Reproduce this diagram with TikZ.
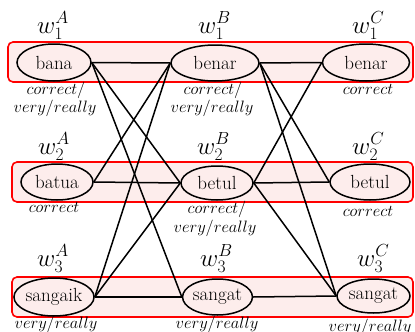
\RequirePackage{fix-cm}
\documentclass[tikz,border=0pt]{standalone}
\usetikzlibrary{shapes.geometric}
\definecolor{rowpink}{RGB}{253,237,236}
\definecolor{rowred}{RGB}{255,0,0}
\begin{document}
\begin{tikzpicture}[x=1pt,y=-1pt,
  rowbox/.style={draw=rowred,fill=rowpink,line width=1.6pt,rounded corners=5pt},
  word/.style={ellipse,draw=black,fill=rowpink,line width=1.5pt,inner sep=0pt,
    font=\fontsize{19}{22}\selectfont},
  wlab/.style={anchor=base west,inner sep=0pt,font=\fontsize{25}{28}\selectfont},
  note/.style={anchor=base,inner sep=0pt,font=\fontsize{16.5}{19}\selectfont},
  link/.style={line width=1.5pt,black}]
\useasboundingbox (0,0) rectangle (415,332);
% row boxes
\draw[rowbox] (8,42) rectangle (413,82);
\draw[rowbox] (12,162) rectangle (413,202);
\draw[rowbox] (12,277) rectangle (413,317);
% words
\node[word,minimum width=74pt,minimum height=37pt] (a1) at (54,62.5) {bana};
\node[word,minimum width=88pt,minimum height=36pt] (b1) at (215,63) {benar};
\node[word,minimum width=87pt,minimum height=37pt] (c1) at (366,62.5) {benar};
\node[word,minimum width=72pt,minimum height=36pt] (a2) at (57,182) {batua};
\node[word,minimum width=72pt,minimum height=34pt] (b2) at (217,183) {betul};
\node[word,minimum width=80pt,minimum height=36pt] (c2) at (370,182) {betul};
\node[word,minimum width=75pt,minimum height=38pt] (a3) at (54,297) {sangaik};
\node[word,minimum width=69pt,minimum height=36pt] (b3) at (217.5,297) {sangat};
\node[word,minimum width=73pt,minimum height=34pt] (c3) at (373.5,296) {sangat};
% links A-B
\draw[link] (a1.east) -- (b1.west);
\draw[link] (a1.east) -- (b2.west);
\draw[link] (a1.east) -- (b3.west);
\draw[link] (a2.east) -- (b1.west);
\draw[link] (a2.east) -- (b2.west);
\draw[link] (a3.east) -- (b1.west);
\draw[link] (a3.east) -- (b2.west);
\draw[link] (a3.east) -- (b3.west);
% links B-C
\draw[link] (b1.east) -- (c1.west);
\draw[link] (b1.east) -- (c2.west);
\draw[link] (b1.east) -- (c3.west);
\draw[link] (b2.east) -- (c1.west);
\draw[link] (b2.east) -- (c2.west);
\draw[link] (b2.east) -- (c3.west);
\draw[link] (b3.east) -- (c3.west);
% w labels
\node[wlab] (wa1) at (37,33) {$w^A_1$};
\node[wlab] (wb1) at (198,33) {$w^B_1$};
\node[wlab] (wc1) at (352,33) {$w^C_1$};
\node[wlab] (wa2) at (38,154) {$w^A_2$};
\node[wlab] (wb2) at (197,154) {$w^B_2$};
\node[wlab] (wc2) at (352,154) {$w^C_2$};
\node[wlab] (wa3) at (37,266) {$w^A_3$};
\node[wlab] (wb3) at (200,266) {$w^B_3$};
\node[wlab] (wc3) at (357,266) {$w^C_3$};
% notes
\node[note] (na1a) at (56,94) {$correct/$};
\node[note] (na1b) at (55,112) {$very/really$};
\node[note] (nb1a) at (213,94) {$correct/$};
\node[note] (nb1b) at (212,112) {$very/really$};
\node[note] (nc1) at (368,94) {$correct$};
\node[note] (na2) at (54,212) {$correct$};
\node[note] (nb2a) at (217,213) {$correct/$};
\node[note] (nb2b) at (215,232) {$very/really$};
\node[note] (nc2) at (368,216) {$correct$};
\node[note] (na3) at (56,328) {$very/really$};
\node[note] (nb3) at (217,328) {$very/really$};
\node[note] (nc3) at (370,331) {$very/really$};
\end{tikzpicture}
\end{document}
